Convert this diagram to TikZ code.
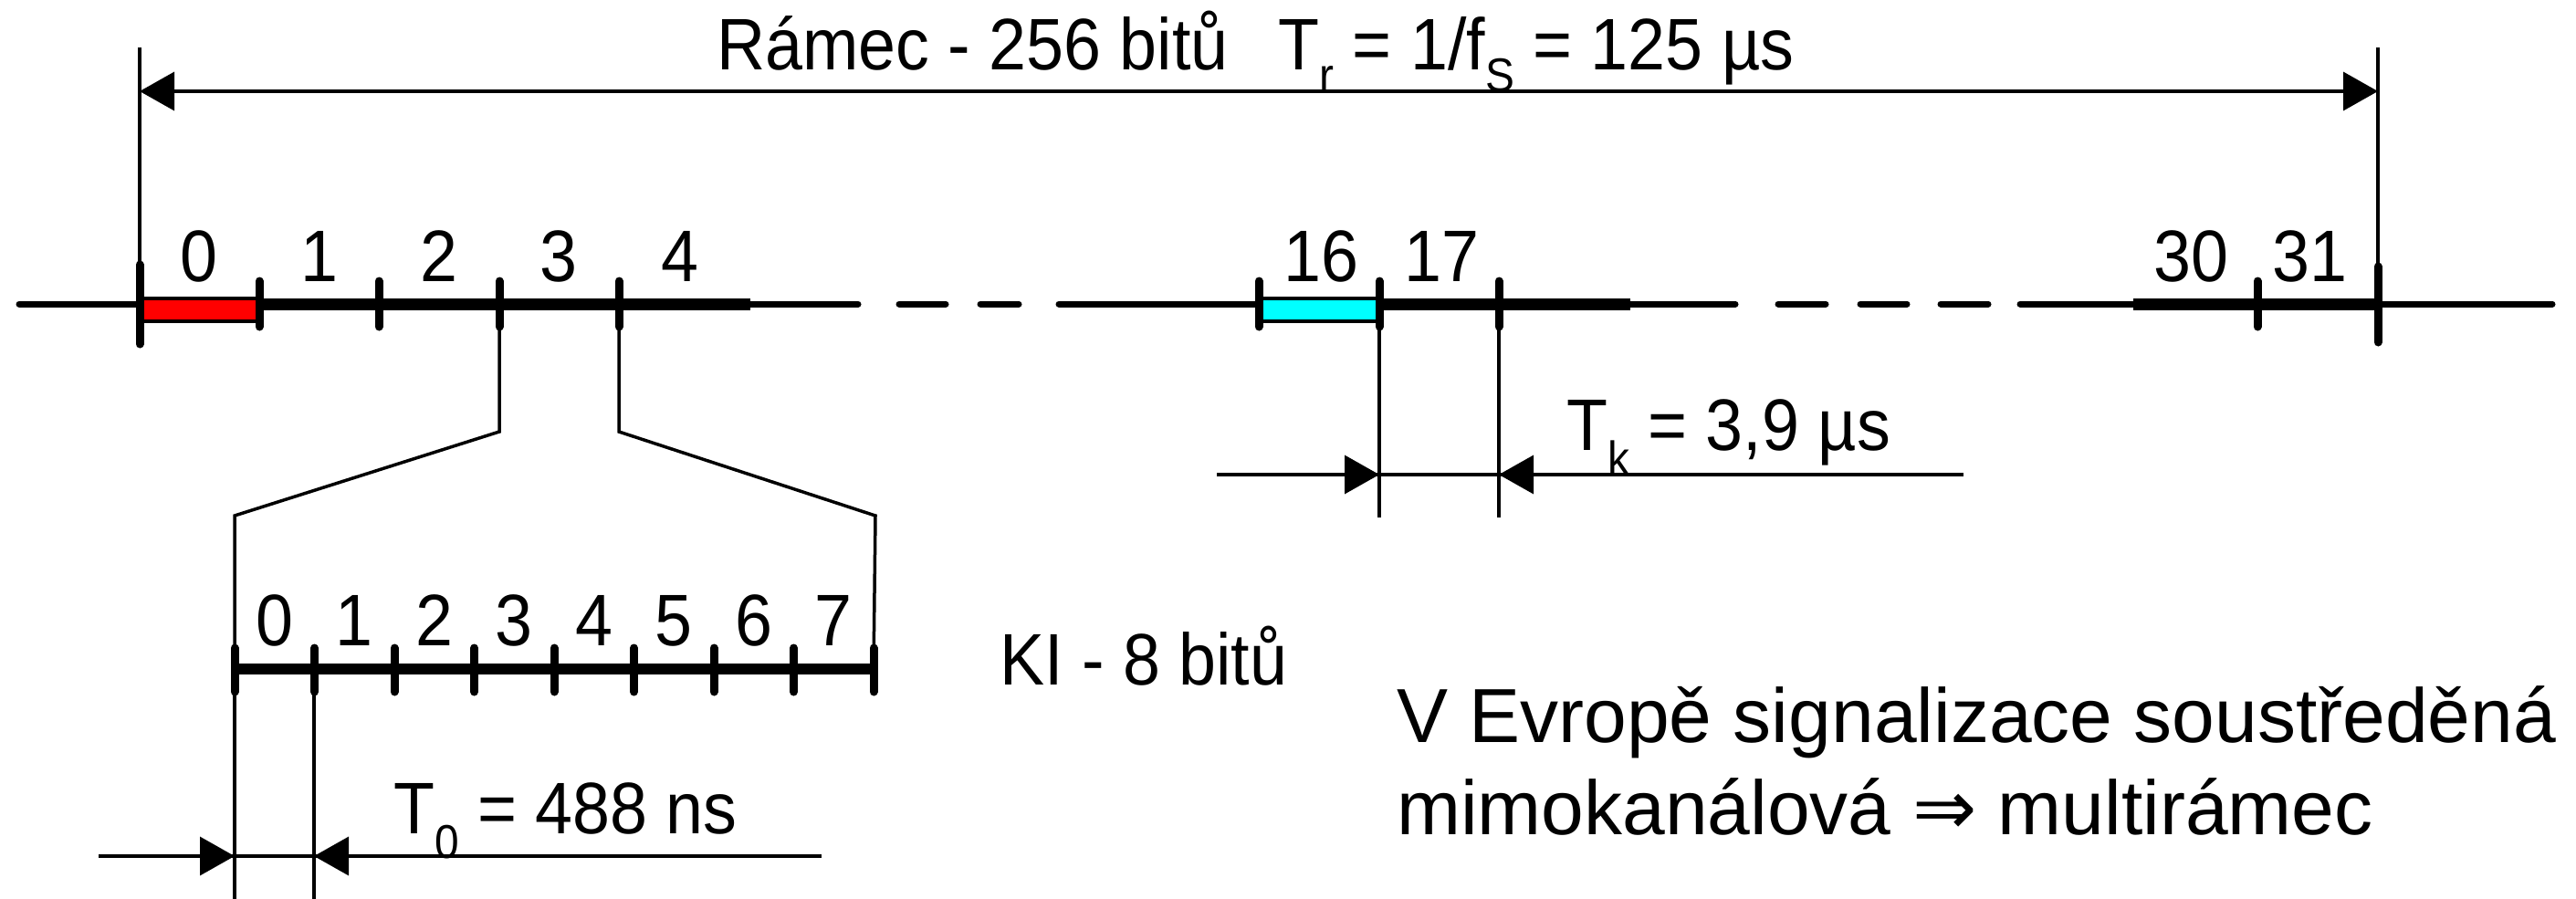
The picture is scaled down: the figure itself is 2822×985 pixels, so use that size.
\documentclass[tikz,border=0pt]{standalone}
\usepackage{fontspec}
\setmainfont{Liberation Sans}
\newfontfamily\nf[FakeStretch=0.92]{Liberation Sans}
\newfontfamily\symf{DejaVu Sans}
\usetikzlibrary{arrows.meta}
\definecolor{slotcyan}{RGB}{0,255,255}
\definecolor{slotred}{RGB}{255,0,0}
\tikzset{
  thinln/.style={line width=3.5pt},
  mainln/.style={line width=7pt, line cap=round},
  thickln/.style={line width=13pt},
  tickln/.style={line width=9pt, line cap=round},
  lbl/.style={inner sep=0pt, anchor=base, font=\nf\fontsize{80}{96}\selectfont},
  txt/.style={inner sep=0pt, anchor=base west, font=\nf\fontsize{80}{96}\selectfont},
  bigtxt/.style={inner sep=0pt, anchor=base west, font=\fontsize{84}{101}\selectfont},
  dimarr/.style={-{Triangle[length=38pt,width=42pt]}, line width=3.5pt},
  slotbox/.style={draw=black, line width=3.5pt},
}
\newcommand{\sbt}[2]{\raisebox{-#1pt}{\fontsize{52}{52}\selectfont #2}}
\begin{document}
\begin{tikzpicture}[x=1pt,y=-1pt]
\useasboundingbox (0,0) rectangle (2822,985);
% key coordinates on the frame line
\coordinate (m0) at (153,333);
\coordinate (m1) at (284,333);
\coordinate (m3) at (547,333);
\coordinate (m4) at (678,333);
\coordinate (m16) at (1379,333);
\coordinate (m17) at (1511,333);
\coordinate (m18) at (1642,333);
\coordinate (m32) at (2605,333);
\coordinate (top0) at (153,52);
\coordinate (top32) at (2605,52);
\coordinate (arrL) at (153,100);
\coordinate (arrR) at (2605,100);
% KI line
\coordinate (k0) at (257,733);
\coordinate (k1) at (344,733);
\coordinate (k8) at (957,733);
% thin main line with gaps
\draw[mainln] (21,333) -- (940,333);
\draw[mainln] (985,333) -- (1036,333);
\draw[mainln] (1074,333) -- (1116,333);
\draw[mainln] (1160,333) -- (1901,333);
\draw[mainln] (1948,333) -- (2000,333);
\draw[mainln] (2038,333) -- (2089,333);
\draw[mainln] (2126,333) -- (2178,333);
\draw[mainln] (2213,333) -- (2796,333);
% thick segments
\draw[thickln] (m1) -- (822,333);
\draw[thickln] (m17) -- (1786,333);
\draw[thickln] (2337,333) -- (m32);
% coloured slots
\filldraw[slotbox, fill=slotred] (153,327) rectangle (284,352);
\filldraw[slotbox, fill=slotcyan] (1379,327) rectangle (1511,352);
% ticks on main line
\foreach \x in {284,415,547,678,1379,1511,1642,2473}
  \draw[tickln] (\x,308) -- (\x,358);
\draw[tickln] (153,290) -- (153,377);
\draw[tickln] (2605,292) -- (2605,375);
% frame dimension
\draw[thinln] (top0) -- (153,290);
\draw[thinln] (top32) -- (2605,292);
\draw[thinln, {Triangle[length=38pt,width=42pt]}-{Triangle[length=38pt,width=42pt]}] (arrL) -- (arrR);
% zoom-out lines
\draw[thinln] (m3) -- (547,473) -- (257,565) -- (k0);
\draw[thinln] (m4) -- (678,473) -- (959,565) -- (k8);
% KI line
\draw[thickln, line width=12pt] (k0) -- (k8);
\foreach \i in {0,...,8}
  \draw[tickln] ({257+87.5*\i},710) -- ({257+87.5*\i},758);
\foreach \i in {0,...,7}
  \node[lbl] (kd\i) at ({257+87.5*\i+43.75},707) {\i};
% T0 dimension
\draw[thinln] (k0) -- (257,985);
\draw[thinln] (k1) -- (344,985);
\draw[thinln] (108,938) -- (900,938);
\draw[dimarr] (108,938) -- (257,938);
\draw[dimarr] (900,938) -- (344,938);
% Tk dimension
\draw[thinln] (m17) -- (1511,567);
\draw[thinln] (m18) -- (1642,567);
\draw[thinln] (1333,520) -- (2151,520);
\draw[dimarr] (1333,520) -- (1511,520);
\draw[dimarr] (2151,520) -- (1642,520);
% slot numbers
\node[lbl] (n0) at (218,308) {0};
\node[lbl] (n1) at (350,308) {1};
\node[lbl] (n2) at (481,308) {2};
\node[lbl] (n3) at (612,308) {3};
\node[lbl] (n4) at (745,308) {4};
\node[lbl] (n16) at (1447,308) {16};
\node[lbl] (n17) at (1579,308) {17};
\node[lbl] (n30) at (2400,308) {30};
\node[lbl] (n31) at (2530,308) {31};
% texts
\node[txt] (title) at (785,76) {Rámec - 256 bitů\hspace{55pt}T\sbt{24}{r} = 1/f\sbt{24}{S} = 125 µs};
\node[txt] (tk) at (1716,493) {T\sbt{27}{k} = 3,9 µs};
\node[txt] (t0) at (431,913) {T\sbt{27}{0} = 488 ns};
\node[txt] (ki) at (1095,750) {KI - 8 bitů};
\node[bigtxt] (anno1) at (1530,813) {V Evropě signalizace soustředěná};
\node[bigtxt] (anno2) at (1530,914) {mimokanálová {\symf ⇒} multirámec};
\end{tikzpicture}
\end{document}
